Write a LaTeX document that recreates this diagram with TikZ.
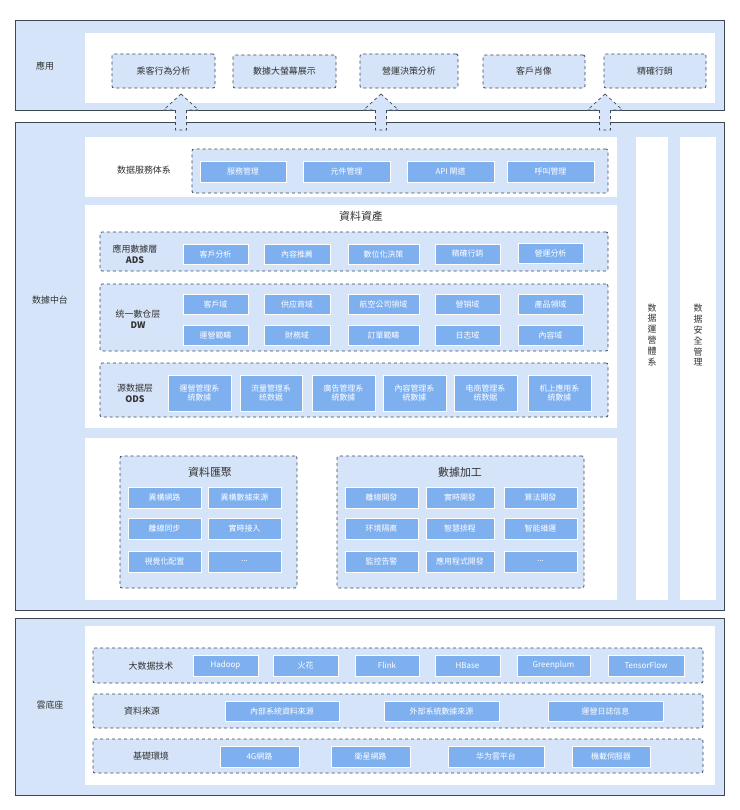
\documentclass[tikz,border=0pt]{standalone}
\usepackage{fontspec}
\setmainfont{Noto Sans CJK TC}
\usetikzlibrary{positioning}
\definecolor{panelblue}{HTML}{D5E4F8}
\definecolor{itemblue}{HTML}{7EB0F0}
\definecolor{edgegray}{HTML}{3E4854}
\definecolor{txt}{HTML}{333333}
\tikzset{
	panel/.style={draw=edgegray, fill=panelblue, line width=0.8bp},
	inner/.style={fill=white, draw=none},
	grp/.style={draw=edgegray, dashed, fill=panelblue, line width=0.8bp, rounded corners=2bp},
	item/.style={fill=itemblue, draw=white, line width=0.6bp, text=white, font=\fontsize{8}{9}\selectfont, align=center, inner sep=0pt},
	lbl/.style={text=txt, font=\fontsize{9}{11}\selectfont, align=center},
	ttl/.style={text=txt, font=\fontsize{11}{13}\selectfont},
	blockarrow/.style={draw=edgegray, dashed, fill=panelblue, line width=0.7bp}
}
% box between two corners
\newcommand{\itm}[7][item]{\node[#1, minimum width={(#5-#3)*1bp}, minimum height={(#6-#4)*1bp}] (#2) at ({(#3+#5)/2},{(#4+#6)/2}) {#7};}
\newcommand{\uparr}[1]{\draw[blockarrow] (#1,94) -- (#1+17.5,110) -- (#1+5.5,110) -- (#1+5.5,130) -- (#1-5.5,130) -- (#1-5.5,110) -- (#1-17.5,110) -- cycle;}
\begin{document}
\begin{tikzpicture}[x=1bp,y=-1bp]
	\useasboundingbox (0,0) rectangle (740,810);

	% layers
	\draw[panel] (15,20) rectangle (724,110);
	\fill[inner] (85,33) rectangle (715,103);
	\draw[panel] (15,122) rectangle (724,610);
	\draw[panel] (15,618) rectangle (724,795);
	\fill[inner] (85,626) rectangle (715,785);
	\fill[inner] (85,137) rectangle (617,197);
	\fill[inner] (85,205) rectangle (617,428);
	\fill[inner] (85,438) rectangle (617,600);
	\fill[inner] (636,137) rectangle (668,600);
	\fill[inner] (680,137) rectangle (716,600);

	\node[lbl] (app) at (45,66) {應用};
	\node[lbl] (mid) at (50,300) {数據中台};
	\node[lbl] (cloud) at (50,705) {雲底座};

	% 應用
	\itm[grp,lbl]{a1}{112}{54}{215}{88}{乘客行為分析}
	\itm[grp,lbl]{a2}{233}{55}{336}{88}{數據大螢幕展示}
	\itm[grp,lbl]{a3}{360}{54}{458}{88}{營運決策分析}
	\itm[grp,lbl]{a4}{483}{55}{585}{88}{客戶肖像}
	\itm[grp,lbl]{a5}{604}{54}{706}{88}{精確行銷}
	\uparr{181}
	\uparr{381}
	\uparr{605}

	% 数据服务体系
	\node[lbl] (svc) at (144,170) {数据服務体系};
	\itm[grp]{gsvc}{192}{149}{608}{193}{}
	\itm{s1}{200}{161}{286}{182}{服務管理}
	\itm{s2}{303}{161}{390}{182}{元件管理}
	\itm{s3}{407}{161}{494}{182}{API 閘道}
	\itm{s4}{507}{161}{594}{182}{呼叫管理}

	\node[lbl] (vops) at (652,335) {数\\据\\運\\營\\體\\系};
	\node[lbl] (vsec) at (698,335) {数\\据\\安\\全\\管\\理};

	% 資料資產
	\node[ttl] (asset) at (361,216) {資料資產};
	\itm[grp]{gads}{100}{232}{608}{271}{}
	\node[lbl] (ads) at (135,254) {應用數據層\\\textbf{ADS}};
	\itm{d1}{183}{244}{248}{264}{客戶分析}
	\itm{d2}{264}{244}{330}{264}{內容推薦}
	\itm{d3}{348}{244}{419}{264}{數位化決策}
	\itm{d4}{435}{244}{500}{264}{精確行銷}
	\itm{d5}{518}{243}{583}{263}{營運分析}

	\itm[grp]{gdw}{100}{284}{608}{351}{}
	\node[lbl] (dw) at (138,319) {统一數仓层\\\textbf{DW}};
	\itm{w1}{183}{294}{248}{314}{客戶域}
	\itm{w2}{264}{294}{330}{314}{供应商域}
	\itm{w3}{348}{294}{419}{314}{航空公司領域}
	\itm{w4}{435}{294}{500}{314}{營销域}
	\itm{w5}{518}{294}{583}{314}{產品領域}
	\itm{w6}{183}{325}{248}{345}{運營範疇}
	\itm{w7}{264}{325}{330}{345}{財務域}
	\itm{w8}{348}{325}{419}{345}{訂單範疇}
	\itm{w9}{435}{325}{500}{345}{日志域}
	\itm{w10}{518}{325}{583}{345}{內容域}

	\itm[grp]{gods}{100}{363}{608}{417}{}
	\node[lbl] (ods) at (135,393) {源数据层\\\textbf{ODS}};
	\itm{o1}{168}{375}{231}{411}{運營管理系\\統數據}
	\itm{o2}{240}{375}{302}{411}{流量管理系\\统数据}
	\itm{o3}{312}{375}{375}{411}{廣告管理系\\統數據}
	\itm{o4}{383}{375}{446}{411}{內容管理系\\統數據}
	\itm{o5}{454}{375}{517}{411}{电商管理系\\统数据}
	\itm{o6}{528}{375}{591}{411}{机上應用系\\統數據}

	% 匯聚 / 加工
	\itm[grp]{gcol}{120}{456}{297}{588}{}
	\node[ttl] (col) at (210,472) {資料匯聚};
	\itm{c1}{128}{487}{201}{508}{異構網路}
	\itm{c2}{208}{487}{281}{508}{異構數據來源}
	\itm{c3}{128}{518}{201}{539}{離線同步}
	\itm{c4}{208}{518}{281}{539}{實時接入}
	\itm{c5}{128}{551}{201}{572}{視覺化配置}
	\itm{c6}{208}{551}{281}{572}{...}

	\itm[grp]{gproc}{337}{456}{584}{588}{}
	\node[ttl] (proc) at (460,472) {數據加工};
	\itm{p1}{345}{487}{418}{508}{離線開發}
	\itm{p2}{426}{487}{494}{508}{實時開發}
	\itm{p3}{504}{487}{577}{508}{算法開發}
	\itm{p4}{345}{518}{418}{539}{环境隔离}
	\itm{p5}{426}{518}{494}{539}{智慧排程}
	\itm{p6}{504}{518}{577}{539}{智能維運}
	\itm{p7}{345}{551}{418}{572}{監控告警}
	\itm{p8}{426}{551}{494}{572}{應用程式開發}
	\itm{p9}{504}{551}{577}{572}{...}

	% 雲底座
	\itm[grp]{gbig}{93}{648}{703}{683}{}
	\node[lbl] (big) at (151,666) {大数据技术};
	\itm{b1}{193}{655}{258}{676}{Hadoop}
	\itm{b2}{273}{655}{338}{676}{火花}
	\itm{b3}{355}{655}{419}{676}{Flink}
	\itm{b4}{435}{655}{500}{676}{HBase}
	\itm{b5}{517}{655}{590}{676}{Greenplum}
	\itm{b6}{608}{655}{684}{676}{TensorFlow}

	\itm[grp]{gsrc}{93}{694}{703}{728}{}
	\node[lbl] (src) at (142,711) {資料來源};
	\itm{r1}{225}{701}{339}{721}{內部系統資料來源}
	\itm{r2}{384}{701}{499}{721}{外部系統數據來源}
	\itm{r3}{548}{701}{663}{721}{運營日誌信息}

	\itm[grp]{genv}{93}{739}{703}{773}{}
	\node[lbl] (env) at (151,756) {基礎環境};
	\itm{e1}{220}{746}{299}{767}{4G網路}
	\itm{e2}{331}{746}{410}{767}{衛星網路}
	\itm{e3}{448}{746}{544}{767}{华为雲平台}
	\itm{e4}{572}{746}{650}{767}{機載伺服器}
\end{tikzpicture}
\end{document}
